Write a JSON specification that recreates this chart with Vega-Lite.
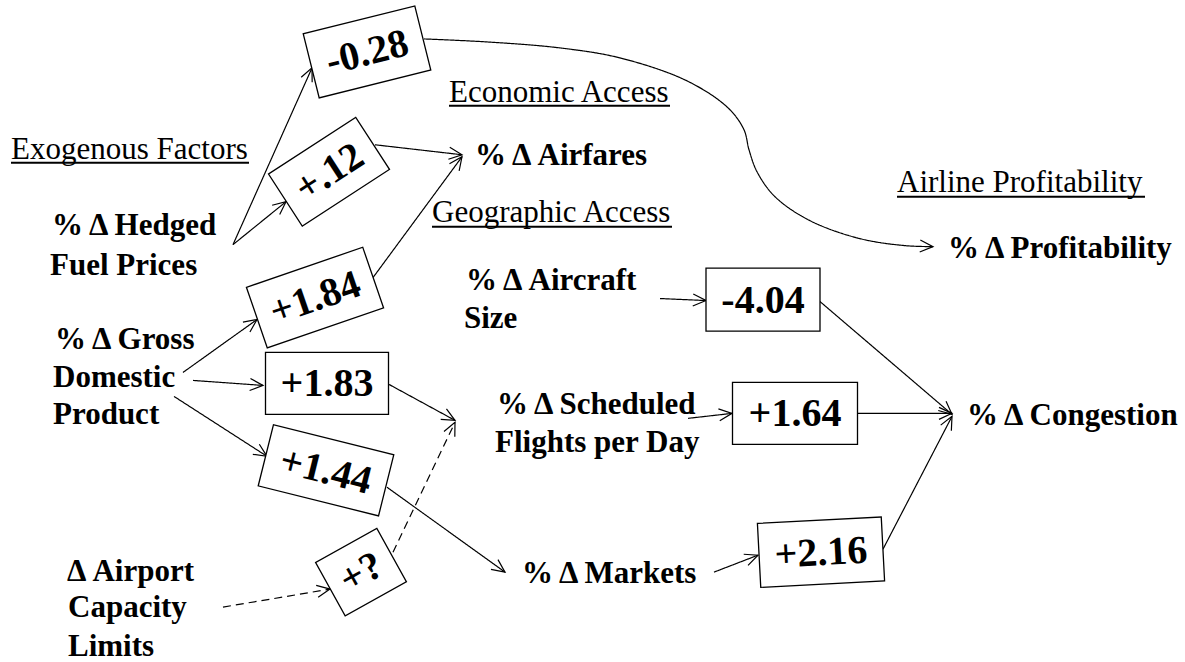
{
  "$schema": "https://vega.github.io/schema/vega-lite/v6.json",
  "width": 1185,
  "height": 662,
  "autosize": {"type": "fit", "contains": "padding"},
  "padding": 0,
  "background": "white",
  "config": {"view": {"stroke": null}},
  "datasets": {
    "edges": [
      {"edge": "e1", "order": 1, "x": 233, "y": 245, "kind": "solid"},
      {"edge": "e1", "order": 2, "x": 312, "y": 68, "kind": "solid"},
      {"edge": "e2", "order": 1, "x": 233, "y": 245, "kind": "solid"},
      {"edge": "e2", "order": 2, "x": 286, "y": 202, "kind": "solid"},
      {"edge": "e3", "order": 1, "x": 375, "y": 145, "kind": "solid"},
      {"edge": "e3", "order": 2, "x": 462, "y": 155, "kind": "solid"},
      {"edge": "e4", "order": 1, "x": 373, "y": 278, "kind": "solid"},
      {"edge": "e4", "order": 2, "x": 462, "y": 157, "kind": "solid"},
      {"edge": "e5", "order": 1, "x": 424, "y": 39, "kind": "solid"},
      {"edge": "e5", "order": 2, "x": 487, "y": 42, "kind": "solid"},
      {"edge": "e5", "order": 3, "x": 560, "y": 48, "kind": "solid"},
      {"edge": "e5", "order": 4, "x": 620, "y": 58, "kind": "solid"},
      {"edge": "e5", "order": 5, "x": 687, "y": 81, "kind": "solid"},
      {"edge": "e5", "order": 6, "x": 728, "y": 108, "kind": "solid"},
      {"edge": "e5", "order": 7, "x": 744, "y": 130, "kind": "solid"},
      {"edge": "e5", "order": 8, "x": 749, "y": 150, "kind": "solid"},
      {"edge": "e5", "order": 9, "x": 757, "y": 172, "kind": "solid"},
      {"edge": "e5", "order": 10, "x": 775, "y": 197, "kind": "solid"},
      {"edge": "e5", "order": 11, "x": 810, "y": 221, "kind": "solid"},
      {"edge": "e5", "order": 12, "x": 860, "y": 239, "kind": "solid"},
      {"edge": "e5", "order": 13, "x": 905, "y": 246, "kind": "solid"},
      {"edge": "e5", "order": 14, "x": 933, "y": 247, "kind": "solid"},
      {"edge": "e6", "order": 1, "x": 183, "y": 373, "kind": "solid"},
      {"edge": "e6", "order": 2, "x": 257, "y": 320, "kind": "solid"},
      {"edge": "e7", "order": 1, "x": 193, "y": 381, "kind": "solid"},
      {"edge": "e7", "order": 2, "x": 263, "y": 386, "kind": "solid"},
      {"edge": "e8", "order": 1, "x": 174, "y": 397, "kind": "solid"},
      {"edge": "e8", "order": 2, "x": 267, "y": 457, "kind": "solid"},
      {"edge": "e9", "order": 1, "x": 389, "y": 385, "kind": "solid"},
      {"edge": "e9", "order": 2, "x": 455, "y": 421, "kind": "solid"},
      {"edge": "e10", "order": 1, "x": 393, "y": 553, "kind": "dashed"},
      {"edge": "e10", "order": 2, "x": 455, "y": 423, "kind": "dashed"},
      {"edge": "e11", "order": 1, "x": 223, "y": 608, "kind": "dashed"},
      {"edge": "e11", "order": 2, "x": 330, "y": 590, "kind": "dashed"},
      {"edge": "e12", "order": 1, "x": 387, "y": 488, "kind": "solid"},
      {"edge": "e12", "order": 2, "x": 505, "y": 573, "kind": "solid"},
      {"edge": "e13", "order": 1, "x": 714, "y": 573, "kind": "solid"},
      {"edge": "e13", "order": 2, "x": 758, "y": 556, "kind": "solid"},
      {"edge": "e14", "order": 1, "x": 660, "y": 299, "kind": "solid"},
      {"edge": "e14", "order": 2, "x": 706, "y": 301, "kind": "solid"},
      {"edge": "e15", "order": 1, "x": 688, "y": 419, "kind": "solid"},
      {"edge": "e15", "order": 2, "x": 732, "y": 414, "kind": "solid"},
      {"edge": "e16", "order": 1, "x": 820, "y": 302, "kind": "solid"},
      {"edge": "e16", "order": 2, "x": 952, "y": 415, "kind": "solid"},
      {"edge": "e17", "order": 1, "x": 857, "y": 414, "kind": "solid"},
      {"edge": "e17", "order": 2, "x": 952, "y": 414, "kind": "solid"},
      {"edge": "e18", "order": 1, "x": 883, "y": 550, "kind": "solid"},
      {"edge": "e18", "order": 2, "x": 952, "y": 417, "kind": "solid"}
    ],
    "heads": [
      {"x": 312, "y": 68, "dir": -65.9},
      {"x": 286, "y": 202, "dir": -39.1},
      {"x": 462, "y": 155, "dir": 6.6},
      {"x": 462, "y": 157, "dir": -53.7},
      {"x": 933, "y": 247, "dir": 3},
      {"x": 257, "y": 320, "dir": -35.6},
      {"x": 263, "y": 386, "dir": 4.1},
      {"x": 267, "y": 457, "dir": 32.8},
      {"x": 455, "y": 421, "dir": 28.6},
      {"x": 455, "y": 423, "dir": -64.5},
      {"x": 330, "y": 590, "dir": -9.5},
      {"x": 505, "y": 573, "dir": 35.8},
      {"x": 758, "y": 556, "dir": -21.1},
      {"x": 706, "y": 301, "dir": 2.5},
      {"x": 732, "y": 414, "dir": -6.5},
      {"x": 952, "y": 415, "dir": 40.6},
      {"x": 952, "y": 414, "dir": 0},
      {"x": 952, "y": 417, "dir": -62.6}
    ],
    "boxes": [
      {"id": "b1", "label": "-0.28", "x": 367, "y": 52, "rot": -14},
      {"id": "b2", "label": "+.12", "x": 329, "y": 172, "rot": -33},
      {"id": "b3", "label": "+1.84", "x": 315, "y": 298, "rot": -19},
      {"id": "b4", "label": "+1.83", "x": 327, "y": 384, "rot": 0},
      {"id": "b5", "label": "+1.44", "x": 326, "y": 471, "rot": 14},
      {"id": "b6", "label": "+?", "x": 361, "y": 573, "rot": -29},
      {"id": "b7", "label": "-4.04", "x": 763, "y": 300, "rot": 0},
      {"id": "b8", "label": "+1.64", "x": 795, "y": 414, "rot": 0},
      {"id": "b9", "label": "+2.16", "x": 821, "y": 553, "rot": -3}
    ],
    "bold": [
      {"text": "% Δ Hedged", "x": 52, "y": 235},
      {"text": "Fuel Prices", "x": 50, "y": 275},
      {"text": "% Δ Gross", "x": 55, "y": 350},
      {"text": "Domestic", "x": 53, "y": 388},
      {"text": "Product", "x": 53, "y": 425},
      {"text": "Δ Airport", "x": 67, "y": 582},
      {"text": "Capacity", "x": 68, "y": 618},
      {"text": "Limits", "x": 68, "y": 657},
      {"text": "% Δ Airfares", "x": 475, "y": 165},
      {"text": "% Δ Profitability", "x": 948, "y": 258},
      {"text": "% Δ Aircraft", "x": 466, "y": 290},
      {"text": "Size", "x": 464, "y": 328},
      {"text": "% Δ Scheduled", "x": 497, "y": 415},
      {"text": "Flights per Day", "x": 495, "y": 453},
      {"text": "% Δ Congestion", "x": 967, "y": 426},
      {"text": "% Δ Markets", "x": 522, "y": 584}
    ],
    "headers": [
      {"text": "Exogenous Factors", "x": 11, "y": 159, "x0": 11, "x1": 249, "uy": 163},
      {"text": "Economic Access", "x": 449, "y": 102, "x0": 449, "x1": 670, "uy": 106},
      {"text": "Geographic Access", "x": 432, "y": 222, "x0": 432, "x1": 672, "uy": 227},
      {"text": "Airline Profitability", "x": 897, "y": 192, "x0": 897, "x1": 1145, "uy": 197}
    ]
  },
  "layer": [
    {
      "data": {"name": "edges"},
      "mark": {"type": "line", "interpolate": "catmull-rom", "strokeWidth": 1.2, "color": "black"},
      "encoding": {
        "x": {"field": "x", "type": "quantitative", "scale": {"domain": [0, 1185], "nice": false, "zero": false}, "axis": null},
        "y": {"field": "y", "type": "quantitative", "scale": {"domain": [0, 662], "nice": false, "zero": false, "reverse": true}, "axis": null},
        "detail": {"field": "edge", "type": "nominal"},
        "order": {"field": "order", "type": "quantitative"},
        "strokeDash": {"field": "kind", "type": "nominal", "scale": {"domain": ["solid", "dashed"], "range": [[1, 0], [8, 5]]}, "legend": null}
      }
    },
    {
      "data": {"name": "heads"},
      "mark": {"type": "point", "shape": "M-13,-6L0,0L-13,6", "filled": false, "stroke": "black", "strokeWidth": 1.2, "size": 4, "opacity": 1},
      "encoding": {
        "x": {"field": "x", "type": "quantitative", "axis": null},
        "y": {"field": "y", "type": "quantitative", "axis": null},
        "angle": {"field": "dir", "type": "quantitative", "scale": null}
      }
    },
    {
      "data": {"name": "boxes"},
      "mark": {"type": "point", "filled": true, "fill": "white", "stroke": "black", "strokeWidth": 1.3, "size": 4, "opacity": 1},
      "encoding": {
        "x": {"field": "x", "type": "quantitative", "axis": null},
        "y": {"field": "y", "type": "quantitative", "axis": null},
        "angle": {"field": "rot", "type": "quantitative", "scale": null},
        "shape": {
          "field": "id", "type": "nominal", "legend": null,
          "scale": {
            "domain": ["b1", "b2", "b3", "b4", "b5", "b6", "b7", "b8", "b9"],
            "range": [
              "M-57.5,-33L57.5,-33L57.5,33L-57.5,33Z",
              "M-52,-31L52,-31L52,31L-52,31Z",
              "M-61.5,-32L61.5,-32L61.5,32L-61.5,32Z",
              "M-61.5,-31L61.5,-31L61.5,31L-61.5,31Z",
              "M-62,-31.5L62,-31.5L62,31.5L-62,31.5Z",
              "M-35,-30.5L35,-30.5L35,30.5L-35,30.5Z",
              "M-57,-31.5L57,-31.5L57,31.5L-57,31.5Z",
              "M-62.5,-31L62.5,-31L62.5,31L-62.5,31Z",
              "M-62,-32L62,-32L62,32L-62,32Z"
            ]
          }
        }
      }
    },
    {
      "data": {"name": "boxes"},
      "mark": {"type": "text", "font": "Liberation Serif", "fontSize": 40, "fontWeight": "bold", "align": "center", "baseline": "middle", "color": "black", "dy": 1},
      "encoding": {
        "x": {"field": "x", "type": "quantitative", "axis": null},
        "y": {"field": "y", "type": "quantitative", "axis": null},
        "angle": {"field": "rot", "type": "quantitative", "scale": null},
        "text": {"field": "label", "type": "nominal"}
      }
    },
    {
      "data": {"name": "bold"},
      "mark": {"type": "text", "font": "Liberation Serif", "fontSize": 31, "fontWeight": "bold", "align": "left", "baseline": "alphabetic", "color": "black"},
      "encoding": {
        "x": {"field": "x", "type": "quantitative", "axis": null},
        "y": {"field": "y", "type": "quantitative", "axis": null},
        "text": {"field": "text", "type": "nominal"}
      }
    },
    {
      "data": {"name": "headers"},
      "mark": {"type": "text", "font": "Liberation Serif", "fontSize": 31, "fontWeight": "normal", "align": "left", "baseline": "alphabetic", "color": "black"},
      "encoding": {
        "x": {"field": "x", "type": "quantitative", "axis": null},
        "y": {"field": "y", "type": "quantitative", "axis": null},
        "text": {"field": "text", "type": "nominal"}
      }
    },
    {
      "data": {"name": "headers"},
      "mark": {"type": "rule", "color": "black", "strokeWidth": 2},
      "encoding": {
        "x": {"field": "x0", "type": "quantitative", "axis": null},
        "x2": {"field": "x1"},
        "y": {"field": "uy", "type": "quantitative", "axis": null}
      }
    }
  ]
}
